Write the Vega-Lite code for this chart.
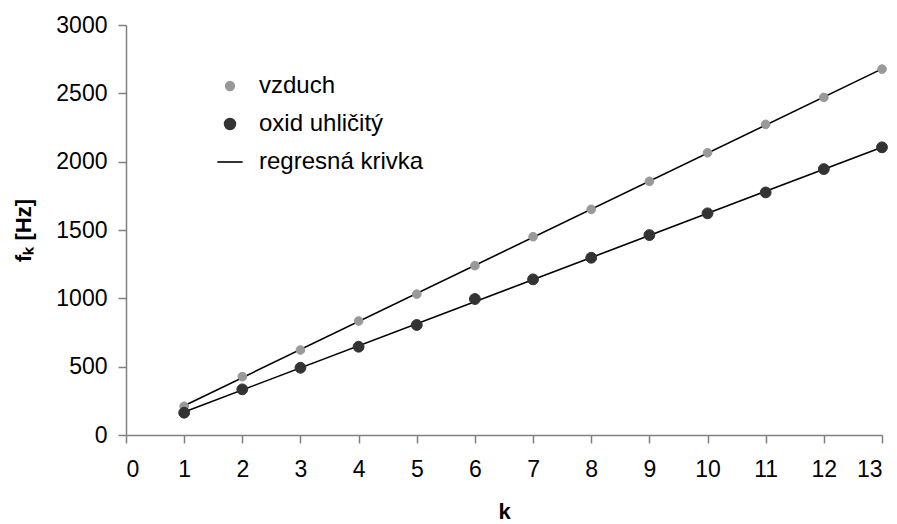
{
  "$schema": "https://vega.github.io/schema/vega-lite/v6.json",
  "width": 756,
  "height": 410,
  "autosize": {"type": "none"},
  "padding": {"left": 126, "top": 25, "right": 15, "bottom": 89},
  "background": "white",
  "config": {
    "view": {"stroke": null},
    "font": "Liberation Sans",
    "axis": {
      "labelFont": "Liberation Sans",
      "labelFontSize": 23,
      "labelColor": "#000000",
      "titleFont": "Liberation Sans",
      "titleFontSize": 22,
      "titleFontWeight": "bold",
      "titleColor": "#000000",
      "domainColor": "#808080",
      "domainWidth": 1.5,
      "tickColor": "#808080",
      "tickWidth": 1.5,
      "tickSize": 8,
      "grid": false
    }
  },
  "data": {
    "values": [
      {"k": 1, "f": 210, "series": "vzduch"},
      {"k": 2, "f": 427, "series": "vzduch"},
      {"k": 3, "f": 622, "series": "vzduch"},
      {"k": 4, "f": 834, "series": "vzduch"},
      {"k": 5, "f": 1031, "series": "vzduch"},
      {"k": 6, "f": 1239, "series": "vzduch"},
      {"k": 7, "f": 1451, "series": "vzduch"},
      {"k": 8, "f": 1651, "series": "vzduch"},
      {"k": 9, "f": 1856, "series": "vzduch"},
      {"k": 10, "f": 2065, "series": "vzduch"},
      {"k": 11, "f": 2273, "series": "vzduch"},
      {"k": 12, "f": 2470, "series": "vzduch"},
      {"k": 13, "f": 2677, "series": "vzduch"},
      {"k": 1, "f": 163, "series": "oxid uhličitý"},
      {"k": 2, "f": 334, "series": "oxid uhličitý"},
      {"k": 3, "f": 492, "series": "oxid uhličitý"},
      {"k": 4, "f": 646, "series": "oxid uhličitý"},
      {"k": 5, "f": 805, "series": "oxid uhličitý"},
      {"k": 6, "f": 995, "series": "oxid uhličitý"},
      {"k": 7, "f": 1139, "series": "oxid uhličitý"},
      {"k": 8, "f": 1297, "series": "oxid uhličitý"},
      {"k": 9, "f": 1463, "series": "oxid uhličitý"},
      {"k": 10, "f": 1622, "series": "oxid uhličitý"},
      {"k": 11, "f": 1775, "series": "oxid uhličitý"},
      {"k": 12, "f": 1946, "series": "oxid uhličitý"},
      {"k": 13, "f": 2105, "series": "oxid uhličitý"}
    ]
  },
  "encoding": {
    "x": {
      "field": "k",
      "type": "quantitative",
      "scale": {"domain": [0, 13], "nice": false, "zero": false},
      "axis": {"title": "k", "values": [0,1,2,3,4,5,6,7,8,9,10,11,12,13], "format": "d", "labelPadding": 15, "titlePadding": 20}
    },
    "y": {
      "field": "f",
      "type": "quantitative",
      "scale": {"domain": [0, 3000], "nice": false},
      "axis": {"title": "fₖ [Hz]", "values": [0,500,1000,1500,2000,2500,3000], "format": "d", "labelPadding": 11, "titlePadding": 20}
    }
  },
  "layer": [
    {
      "transform": [
        {"regression": "f", "on": "k", "groupby": ["series"], "extent": [1, 13]}
      ],
      "mark": {"type": "line", "color": "#000000", "strokeWidth": 1.6},
      "encoding": {
        "detail": {"field": "series", "type": "nominal"}
      }
    },
    {
      "mark": {"type": "point", "filled": true, "opacity": 1, "strokeWidth": 1},
      "encoding": {
        "fill": {
          "field": "series",
          "type": "nominal",
          "scale": {"domain": ["vzduch", "oxid uhličitý", "regresná krivka"], "range": ["#999999", "#333333", "transparent"]},
          "legend": {
            "title": null,
            "orient": "none",
            "legendX": 92,
            "legendY": 49,
            "labelFont": "Liberation Sans",
            "labelFontSize": 24,
            "labelColor": "#000000",
            "labelOffset": 17,
            "labelLimit": 0,
            "rowPadding": 14,
            "symbolStrokeWidth": 1.6
          }
        },
        "stroke": {
          "field": "series",
          "type": "nominal",
          "scale": {"domain": ["vzduch", "oxid uhličitý", "regresná krivka"], "range": ["#999999", "#333333", "#000000"]}
        },
        "shape": {
          "field": "series",
          "type": "nominal",
          "scale": {"domain": ["vzduch", "oxid uhličitý", "regresná krivka"], "range": ["circle", "circle", "M-2,0H2"]}
        },
        "size": {
          "field": "series",
          "type": "ordinal",
          "scale": {"domain": ["vzduch", "oxid uhličitý", "regresná krivka"], "range": [75, 160, 729]}
        }
      }
    }
  ]
}
